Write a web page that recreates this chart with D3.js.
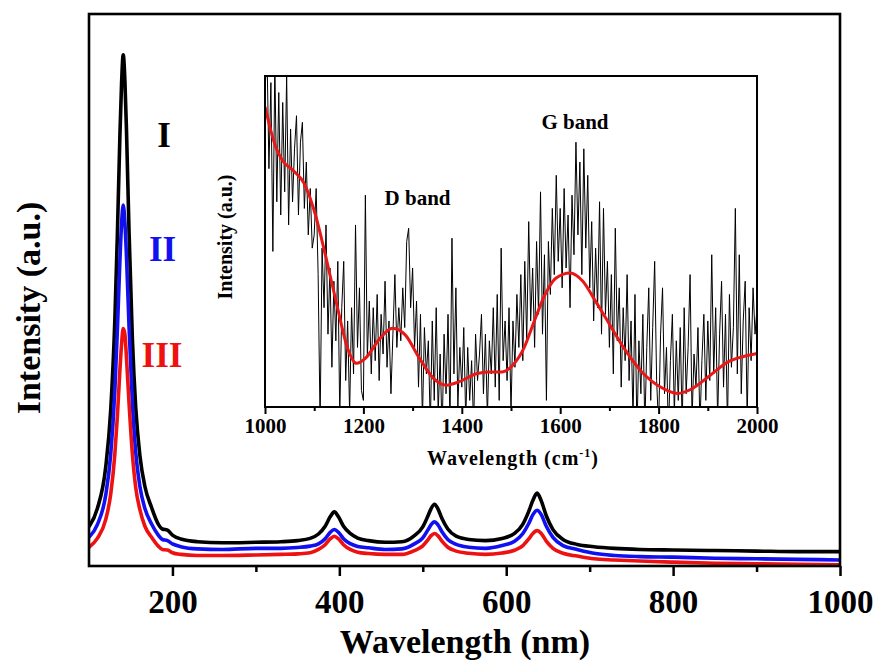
<!DOCTYPE html>
<html>
<head>
<meta charset="utf-8">
<script src="https://cdn.jsdelivr.net/npm/d3@7"></script>
<style>
  body { margin: 0; background: #fff; }
  svg { display: block; }
  text { font-family: "Liberation Serif", "Times New Roman", serif; font-weight: bold; }
</style>
</head>
<body>
<svg id="chart" width="880" height="664"></svg>
<script>
// ---- Main spectra (wavelength in nm, intensity in a.u.) ----
const wavelengths = [100,110,120,126,131,134,137,139,141,143,145,148,152,156,161,167,175,183,188,194,200,210,230,260,
  300,330,350,365,375,383,389,394,399,405,413,422,435,455,475,490,500,506,510,514,518,523,530,540,555,575,
  595,610,620,627,632,637,642,648,656,668,685,705,730,760,800,850,900,950,1000];
const sampleI   = [7.1,10.4,17.9,28.2,44.7,60,77.8,87.3,92.6,88,78.5,60.5,41.1,28.7,20.0,14.4,10.6,7.6,6.7,6.5,5.6,4.9,4.4,4.2,
  4.3,4.4,4.6,5.0,5.8,7.2,8.9,9.8,8.9,7.2,5.9,5.05,4.6,4.3,4.4,5.5,7.1,9.0,10.4,11.2,10.4,8.6,6.7,5.4,4.8,4.6,
  5.0,5.9,7.6,9.9,11.9,13.2,11.8,9.1,6.6,4.8,3.9,3.5,3.2,3.0,2.9,2.8,2.7,2.6,2.6];
const sampleII  = [5.2,7.5,12.8,20.2,31.9,42.7,55.2,61.9,65.4,62.2,55.8,43.3,29.6,20.6,14.4,10.4,7.6,5.6,4.8,4.6,4.0,3.5,3.1,3.0,
  3.2,3.2,3.35,3.6,4.0,4.95,6.1,6.6,6.1,4.95,4.05,3.55,3.3,3.0,3.1,4.0,5.1,6.5,7.5,8.0,7.5,6.2,4.8,3.9,3.4,3.2,
  3.7,4.5,5.9,7.7,9.3,10.1,9.3,7.2,5.2,3.7,3.0,2.3,1.9,1.7,1.6,1.4,1.3,1.2,1.1];
const sampleIII = [3.4,5.0,8.4,13,20.3,27.1,35.4,40.1,43.0,42,37.5,29.5,20.3,14.2,10.2,7.2,5.2,3.6,3.0,2.9,2.4,2.1,1.9,1.9,
  2.0,2.1,2.2,2.4,3.0,3.85,4.9,5.4,4.9,3.85,3.0,2.5,2.25,2.1,2.1,2.8,3.65,4.7,5.5,5.9,5.5,4.5,3.4,2.7,2.3,2.1,
  2.35,2.85,3.7,4.9,5.9,6.4,5.9,4.5,3.2,2.3,1.8,1.3,1.1,0.9,0.7,0.5,0.4,0.3,0.2];
const sampleNames  = ["I", "II", "III"];
const sampleColors = ["#000000", "#1010f0", "#ee1111"];
const mainTicks  = [200, 400, 600, 800, 1000];
const mainMinor  = [300, 500, 700, 900];

// ---- Inset: Raman spectrum (cm-1), raw trace sampled every 4 cm-1 and its smoothed fit ----
const ramanStart = 1000, ramanStep = 4;
const ramanRaw = [
  95,108,72,98,47,104,62,95,58,92,65,100,55,84,62,78,88,58,80,86,60,74,52,66,48,
  52,66,40,-5,48,30,55,22,42,12,38,20,44,-3,30,44,8,26,-2,30,10,55,18,36,5,
  2,64,15,32,10,30,14,34,8,28,16,38,12,26,4,22,40,18,30,20,36,24,50,54,30,
  42,18,32,6,28,-4,24,10,20,-6,26,2,30,-2,16,-8,22,4,28,-5,51,10,36,0,18,
  6,24,-4,18,2,14,-6,22,8,16,28,4,22,-3,20,10,30,6,34,2,48,14,26,8,30,
  -2,26,12,34,18,40,14,44,20,56,26,42,18,50,28,65,22,46,2,50,34,60,40,70,44,
  60,36,66,42,58,30,64,46,80,52,74,40,78,48,70,36,56,26,48,30,62,22,60,28,44,
  18,40,10,54,20,36,6,30,14,40,8,26,-4,34,-8,20,4,28,-6,18,36,2,24,44,8,
  -6,22,36,4,18,-8,14,28,-2,20,2,24,-6,30,4,18,40,-4,16,6,24,-6,14,28,2,
  26,8,46,10,30,-4,22,38,6,28,-6,34,12,24,60,10,46,4,26,38,-4,30,14,36,22,30
];
const ramanFitX = [1000,1022,1036,1058,1080,1102,1124,1146,1168,1186,1204,1234,1259,1285,1314,1343,1369,1394,1431,1453,1482,1504,1526,1547,1569,1591,1620,1646,1672,1701,1730,1766,1803,1839,1869,1905,1942,1971,2000];
const ramanFitY = [90.7,78.5,74.4,71.4,67.4,58.3,45.1,30.9,17.7,13.2,14.7,20.8,23.8,21.8,14.7,8.6,6.6,7.6,10.1,10.6,10.6,12.7,17.7,25.8,33.9,38.9,40.5,38.0,31.9,24.8,17.7,10.6,6.1,4.1,5.6,9.6,13.7,15.2,16.2];
const insetTicks = [1000, 1200, 1400, 1600, 1800, 2000];
const insetMinor = [1100, 1300, 1500, 1700, 1900];
const bandLabels = [{text: "D band", x: 1310, y: 61}, {text: "G band", x: 1630, y: 84}];

const svg = d3.select("#chart");

// ---------- main plot ----------
const M = {left: 89, right: 840, top: 14, bottom: 566};
const x = d3.scaleLinear().domain([100, 1000]).range([M.left, M.right]);
const y = d3.scaleLinear().domain([0, 100]).range([M.bottom, M.top]);

svg.append("defs").append("clipPath").attr("id", "mainClip")
  .append("rect").attr("x", M.left).attr("y", M.top)
  .attr("width", M.right - M.left).attr("height", M.bottom - M.top);

const mainLine = d3.line().x((d, i) => x(wavelengths[i])).y(d => y(d)).curve(d3.curveMonotoneX);
const series = [sampleI, sampleII, sampleIII];
svg.append("g").attr("clip-path", "url(#mainClip)")
  .selectAll("path").data(series).join("path")
  .attr("d", d => mainLine(d))
  .attr("fill", "none")
  .attr("stroke", (d, i) => sampleColors[i])
  .attr("stroke-width", 3.6)
  .attr("stroke-linejoin", "round");

// bottom axis: major and minor ticks
const gx = svg.append("g").attr("transform", `translate(0,${M.bottom})`)
  .call(d3.axisBottom(x).tickValues(mainTicks).tickSize(10).tickFormat(d3.format("d")));
gx.select(".domain").remove();
gx.selectAll(".tick line").attr("stroke", "#000").attr("stroke-width", 2.5);
gx.selectAll(".tick text").attr("y", 47).attr("dy", 0)
  .attr("font-size", 33).attr("fill", "#000")
  .style("font-family", '"Liberation Serif", serif').style("font-weight", "bold");

const gxm = svg.append("g").attr("transform", `translate(0,${M.bottom})`)
  .call(d3.axisBottom(x).tickValues(mainMinor).tickSize(6).tickFormat(""));
gxm.select(".domain").remove();
gxm.selectAll(".tick line").attr("stroke", "#000").attr("stroke-width", 2.5);

// frame
svg.append("rect").attr("x", M.left).attr("y", M.top)
  .attr("width", M.right - M.left).attr("height", M.bottom - M.top)
  .attr("fill", "none").attr("stroke", "#000").attr("stroke-width", 2.6);

// axis titles
svg.append("text").attr("x", (M.left + M.right) / 2 + 0.5).attr("y", 653)
  .attr("text-anchor", "middle").attr("font-size", 34).text("Wavelength (nm)");
svg.append("text").attr("transform", "translate(40,308) rotate(-90)")
  .attr("text-anchor", "middle").attr("font-size", 34).text("Intensity (a.u.)");

// sample labels
const labelPos = [{x: 164, y: 147}, {x: 162.5, y: 261}, {x: 162, y: 367}];
svg.selectAll("text.sample").data(sampleNames).join("text")
  .attr("class", "sample")
  .attr("x", (d, i) => labelPos[i].x).attr("y", (d, i) => labelPos[i].y)
  .attr("text-anchor", "middle").attr("font-size", 35)
  .attr("fill", (d, i) => sampleColors[i]).text(d => d);

// ---------- inset ----------
const I = {left: 265, right: 757, top: 76, bottom: 407};
const xi = d3.scaleLinear().domain([1000, 2000]).range([I.left, I.right]);
const yi = d3.scaleLinear().domain([0, 100]).range([I.bottom, I.top]);

svg.append("rect").attr("x", I.left).attr("y", I.top)
  .attr("width", I.right - I.left).attr("height", I.bottom - I.top)
  .attr("fill", "#fff");

svg.select("defs").append("clipPath").attr("id", "insetClip")
  .append("rect").attr("x", I.left).attr("y", I.top)
  .attr("width", I.right - I.left).attr("height", I.bottom - I.top);

const gi = svg.append("g").attr("clip-path", "url(#insetClip)");
gi.append("path")
  .attr("d", d3.line().x((d, i) => xi(ramanStart + i * ramanStep)).y(d => yi(d))(ramanRaw))
  .attr("fill", "none").attr("stroke", "#000").attr("stroke-width", 1);
gi.append("path")
  .attr("d", d3.line().x((d, i) => xi(ramanFitX[i])).y(d => yi(d)).curve(d3.curveMonotoneX)(ramanFitY))
  .attr("fill", "none").attr("stroke", "#e81818").attr("stroke-width", 3);

const gix = svg.append("g").attr("transform", `translate(0,${I.bottom})`)
  .call(d3.axisBottom(xi).tickValues(insetTicks).tickSize(7).tickFormat(d3.format("d")));
gix.select(".domain").remove();
gix.selectAll(".tick line").attr("stroke", "#000").attr("stroke-width", 2);
gix.selectAll(".tick text").attr("y", 26).attr("dy", 0)
  .attr("font-size", 21).attr("fill", "#000")
  .style("font-family", '"Liberation Serif", serif').style("font-weight", "bold");
const gixm = svg.append("g").attr("transform", `translate(0,${I.bottom})`)
  .call(d3.axisBottom(xi).tickValues(insetMinor).tickSize(4).tickFormat(""));
gixm.select(".domain").remove();
gixm.selectAll(".tick line").attr("stroke", "#000").attr("stroke-width", 2);

svg.append("rect").attr("x", I.left).attr("y", I.top)
  .attr("width", I.right - I.left).attr("height", I.bottom - I.top)
  .attr("fill", "none").attr("stroke", "#000").attr("stroke-width", 2);

// inset titles
const it = svg.append("text").attr("x", (I.left + I.right) / 2 + 2).attr("y", 465)
  .attr("text-anchor", "middle").attr("font-size", 20).attr("letter-spacing", 1);
it.append("tspan").text("Wavelength (cm");
it.append("tspan").attr("font-size", 12).attr("dy", -8).text("-1");
it.append("tspan").attr("dy", 8).text(")");

svg.append("text").attr("transform", "translate(232,237) rotate(-90)")
  .attr("text-anchor", "middle").attr("font-size", 20).text("Intensity (a.u.)");

svg.selectAll("text.band").data(bandLabels).join("text")
  .attr("class", "band")
  .attr("x", d => xi(d.x)).attr("y", d => yi(d.y))
  .attr("text-anchor", "middle").attr("font-size", 21).text(d => d.text);
</script>
</body>
</html>
